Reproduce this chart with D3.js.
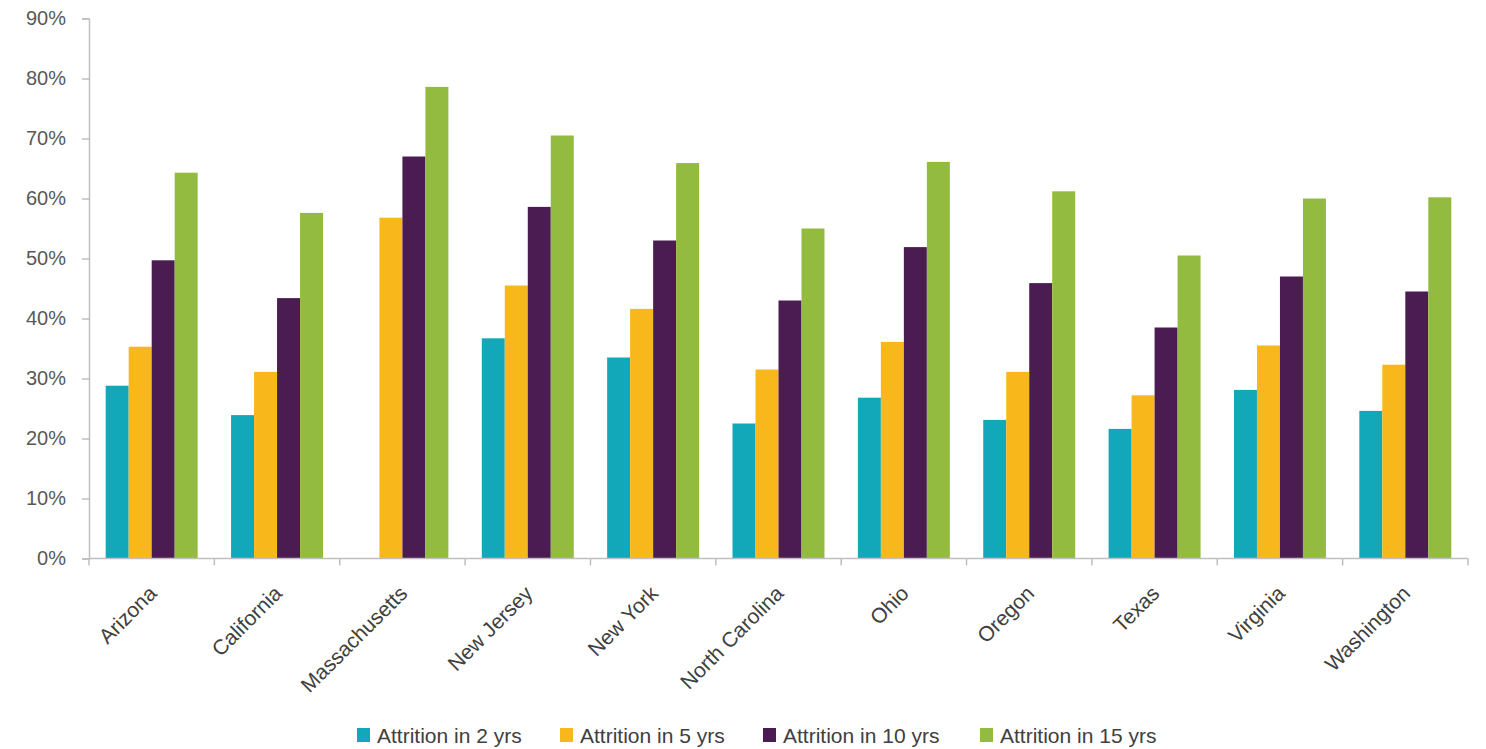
<!DOCTYPE html>
<html>
<head>
<meta charset="utf-8">
<script src="https://cdn.jsdelivr.net/npm/d3@7"></script>
<style>
  html, body { margin: 0; padding: 0; background: #fff; }
  svg { display: block; }
  text { font-family: "Liberation Sans", Arial, sans-serif; }
</style>
</head>
<body>
<svg id="chart" width="1486" height="749"></svg>
<script>
// Teacher attrition by state, share leaving within N years
const states = ["Arizona", "California", "Massachusetts", "New Jersey", "New York",
  "North Carolina", "Ohio", "Oregon", "Texas", "Virginia", "Washington"];
const seriesNames = ["Attrition in 2 yrs", "Attrition in 5 yrs", "Attrition in 10 yrs", "Attrition in 15 yrs"];
const attrition2 = [0.288, 0.239, null, 0.367, 0.335, 0.225, 0.268, 0.231, 0.216, 0.281, 0.246];
const attrition5 = [0.353, 0.311, 0.568, 0.455, 0.416, 0.315, 0.361, 0.311, 0.272, 0.355, 0.323];
const attrition10 = [0.497, 0.434, 0.670, 0.586, 0.530, 0.430, 0.519, 0.459, 0.385, 0.470, 0.445];
const attrition15 = [0.643, 0.576, 0.786, 0.705, 0.659, 0.550, 0.661, 0.612, 0.505, 0.600, 0.602];
const yTicks = [0, 0.1, 0.2, 0.3, 0.4, 0.5, 0.6, 0.7, 0.8, 0.9];
const colors = ["#12A8BA", "#F8B81B", "#4B1C52", "#93BB3F"];

const seriesValues = [attrition2, attrition5, attrition10, attrition15];

const svg = d3.select("#chart");
const axisColor = "#BFBFBF";
const textColor = "#595959";

const x0 = d3.scaleBand().domain(states).range([89, 1468]).paddingInner(0).paddingOuter(0);
const x1 = d3.scaleBand().domain(seriesNames).range([0, x0.bandwidth()]).paddingInner(0).paddingOuter(0.726);
const y = d3.scaleLinear().domain([0, 0.9]).range([558.5, 18.5]);

// bars
const rows = [];
states.forEach((s, i) => {
  seriesNames.forEach((n, j) => {
    const v = seriesValues[j][i];
    if (v != null) rows.push({ state: s, series: n, value: v, color: colors[j] });
  });
});

svg.append("g").selectAll("rect").data(rows).join("rect")
  .attr("x", d => x0(d.state) + x1(d.series))
  .attr("y", d => y(d.value))
  .attr("width", x1.bandwidth())
  .attr("height", d => y(0) - y(d.value))
  .attr("fill", d => d.color);

// y axis
const yAxis = svg.append("g")
  .attr("transform", "translate(89,0)")
  .call(d3.axisLeft(y).tickValues(yTicks).tickFormat(d3.format(".0%")).tickSize(7).tickPadding(16));
yAxis.select(".domain").attr("stroke", axisColor).attr("stroke-width", 1.5);
yAxis.selectAll(".tick line").attr("stroke", axisColor).attr("stroke-width", 1.5);
yAxis.selectAll(".tick text")
  .attr("fill", textColor)
  .style("font-size", "20px");

// x axis: baseline with tick marks at category boundaries
const xAxis = svg.append("g");
xAxis.append("line")
  .attr("x1", x0.range()[0]).attr("x2", x0.range()[1])
  .attr("y1", y(0)).attr("y2", y(0))
  .attr("stroke", axisColor).attr("stroke-width", 1.5);
const boundaries = states.map(s => x0(s)).concat([x0.range()[1]]);
xAxis.selectAll("line.tick").data(boundaries).join("line")
  .attr("class", "tick")
  .attr("x1", d => d).attr("x2", d => d)
  .attr("y1", y(0)).attr("y2", y(0) + 7)
  .attr("stroke", axisColor).attr("stroke-width", 1.5);

xAxis.selectAll("text").data(states).join("text")
  .attr("transform", d => `translate(${x0(d) + x0.bandwidth() / 2 + 1},${y(0) + 31}) rotate(-45)`)
  .attr("text-anchor", "end")
  .attr("dy", "0.35em")
  .attr("fill", "#404040")
  .style("font-size", "21px")
  .text(d => d);

// legend
const legendX = [357, 560, 763, 980];
const legend = svg.append("g").selectAll("g").data(seriesNames).join("g")
  .attr("transform", (d, i) => `translate(${legendX[i]},728)`);
legend.append("rect")
  .attr("width", 13).attr("height", 14)
  .attr("fill", (d, i) => colors[i]);
legend.append("text")
  .attr("x", 20).attr("y", 14.5)
  .attr("fill", "#404040")
  .style("font-size", "21px")
  .text(d => d);
</script>
</body>
</html>
